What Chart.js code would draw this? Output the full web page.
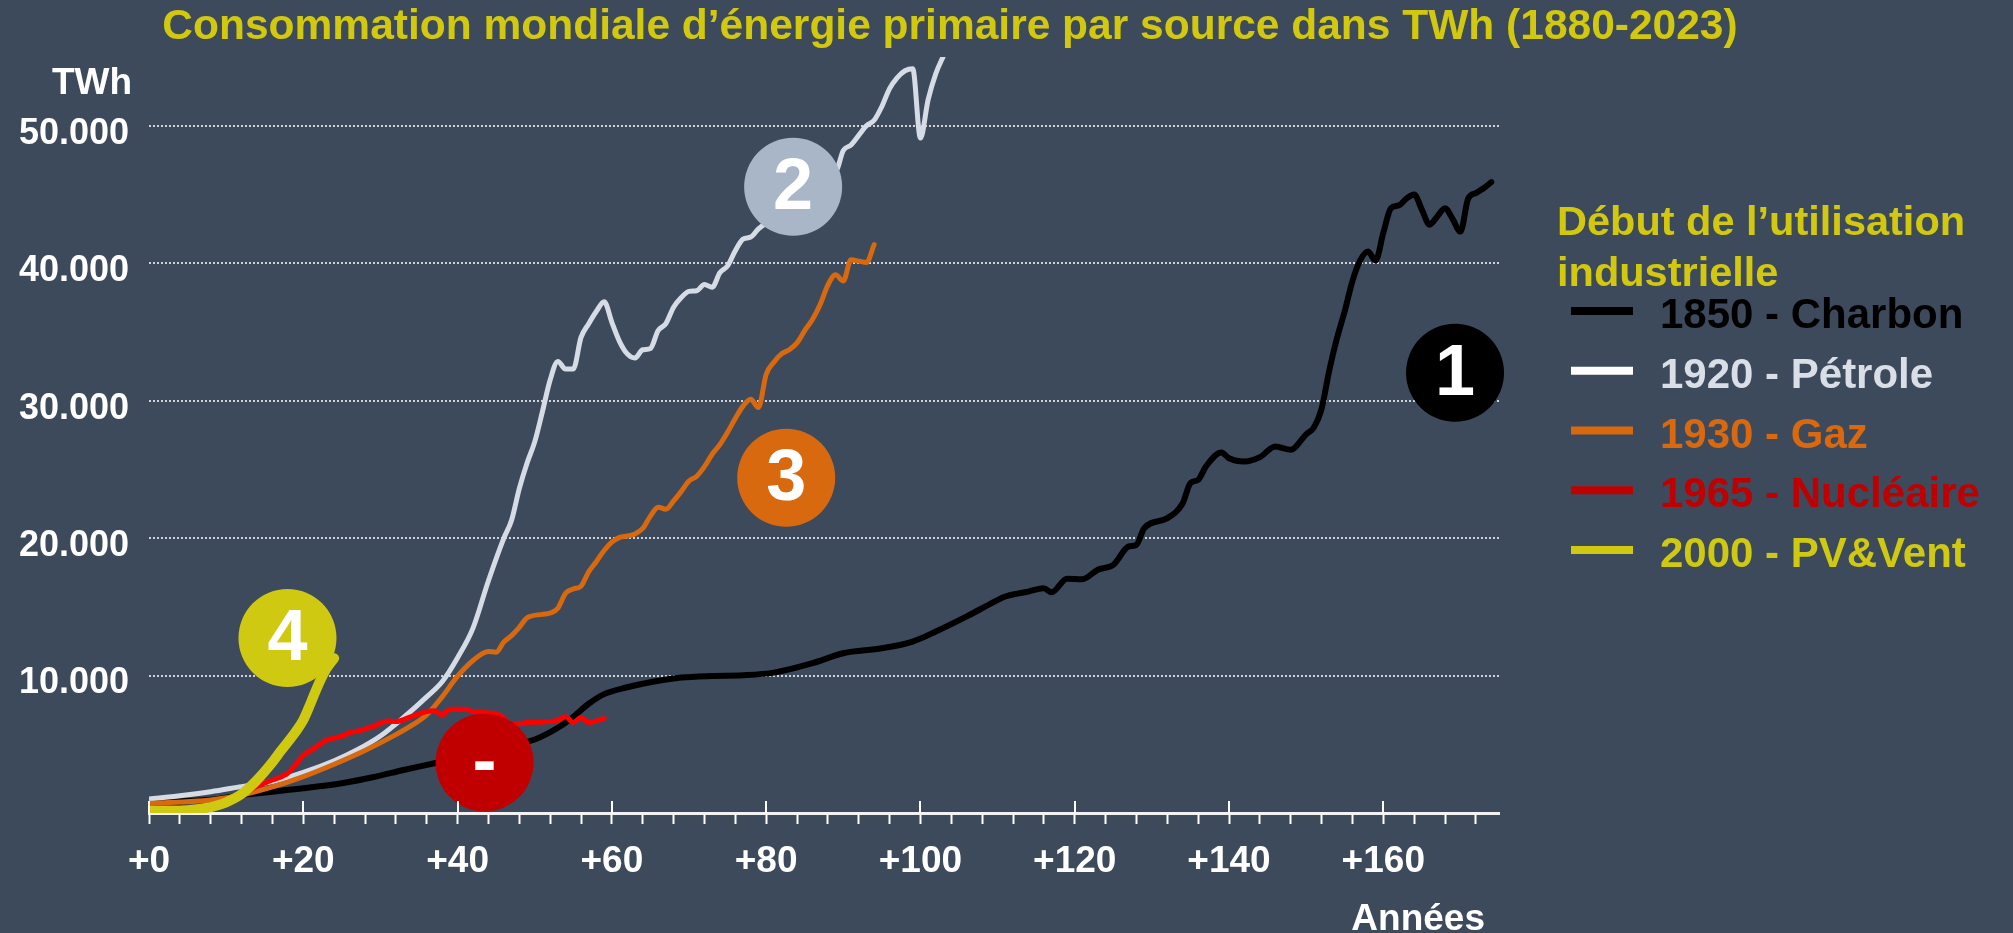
<!DOCTYPE html>
<html lang="fr">
<head>
<meta charset="utf-8">
<title>Consommation mondiale d’énergie primaire par source</title>
<script src="https://cdn.jsdelivr.net/npm/chart.js@4.4.1/dist/chart.umd.min.js"></script>
<style>
  html, body { margin: 0; padding: 0; background: #3d4a5c; }
  #wrap { width: 2013px; height: 933px; position: relative; }
</style>
</head>
<body>
<div id="wrap"><canvas id="chart" width="2013" height="933"></canvas></div>
<script>
// years since start of industrial use -> TWh
const coalYears = [0, 8, 12, 16, 20, 25, 29, 33, 37, 40, 44, 47, 50, 53, 55, 57, 59, 62, 64, 69,
  73, 77, 81, 86, 90, 95, 99, 102, 106, 109, 111, 114, 116, 117, 119, 121, 123, 125, 127, 128,
  129, 132, 134, 135, 136, 137, 139, 140, 142, 144, 146, 148, 150, 151, 152, 153, 154, 155, 156, 157,
  158, 159, 160, 161, 162, 163, 164, 165, 166, 167, 168, 169, 170, 171, 172, 173, 174];
const coalTWh = [780, 960, 1300, 1550, 1800, 2170, 2600, 3130, 3620, 4000, 4550, 4950, 5350, 6200, 7000, 7950, 8650, 9150, 9400, 9850,
  9970, 10020, 10210, 10900, 11620, 11980, 12470, 13200, 14300, 15200, 15750, 16110, 16350, 16060, 17050, 17010, 17700, 18050, 19390, 19510,
  20720, 21450, 22540, 24000, 24240, 25200, 26230, 25810, 25570, 25890, 26670, 26430, 27550, 28050, 29400, 32200, 34550, 36500, 38700, 40200,
  40850, 40200, 42200, 44000, 44200, 44700, 45000, 43900, 42800, 43400, 44000, 43200, 42300, 44700, 45100, 45450, 45900];

const petrolYears = [0, 4, 8, 12, 16, 20, 24, 27, 30, 33, 36, 38, 40, 42, 44, 46, 47, 48, 49, 50,
  51, 52, 53, 54, 55, 56, 57, 58, 59, 60, 61, 62, 63, 64, 65, 66, 67, 68, 69, 70,
  71, 72, 73, 74, 75, 76, 77, 78, 79, 81, 83, 85, 87, 88, 89, 90, 91, 92, 93, 94,
  95, 96, 97, 98, 99, 100, 101, 102, 103];
const petrolTWh = [1020, 1250, 1550, 1920, 2280, 2950, 3800, 4600, 5600, 6950, 8450, 9550, 11300, 13450, 16900, 20000, 21300, 23600, 25450, 27000,
  29200, 31500, 32850, 32300, 32300, 34600, 35600, 36500, 37200, 35700, 34300, 33400, 33100, 33700, 33800, 35100, 35600, 36800, 37500, 37950,
  38000, 38450, 38250, 39300, 39800, 40900, 41750, 41900, 42500, 43300, 44200, 45300, 46300, 46900, 46700, 48200, 48600, 49300, 50000, 50400,
  51400, 52700, 53500, 54000, 54150, 49100, 51900, 53800, 55100];

const gasYears = [0, 8, 12, 16, 20, 24, 28, 32, 34, 36, 38, 40, 42, 44, 45, 46, 47, 48, 49, 51,
  52, 53, 54, 55, 56, 57, 58, 59, 60, 61, 62, 63, 64, 65, 66, 67, 68, 69, 70, 71,
  72, 73, 74, 75, 76, 77, 78, 79, 80, 81, 82, 83, 84, 85, 86, 87, 88, 89, 90, 91,
  92, 93, 94];
const gasTWh = [700, 950, 1310, 1900, 2650, 3550, 4550, 5700, 6350, 7150, 8450, 9950, 11100, 11750, 11700, 12450, 12900, 13500, 14200, 14450,
  14550, 14900, 15990, 16300, 16500, 17550, 18300, 19100, 19700, 20050, 20150, 20300, 20700, 21600, 22250, 22100, 22700, 23400, 24150, 24500,
  25200, 26100, 26800, 27700, 28700, 29600, 30100, 29500, 31900, 32800, 33400, 33700, 34200, 35100, 35900, 37000, 38400, 39150, 38700, 40250,
  40150, 40050, 41350];

const nuclearYears = [0, 4, 8, 10, 12, 14, 16, 18, 19, 20, 21, 23, 25, 26, 27, 29, 31, 32, 34, 36,
  37, 38, 39, 41, 42, 43, 44, 45, 46, 47, 48, 49, 50, 52, 53, 54, 55, 56, 57, 58, 59];
const nuclearTWh = [50, 150, 450, 750, 1300, 1950, 2400, 2900, 3500, 4200, 4550, 5300, 5600, 5850, 5950, 6280, 6700, 6650, 7020, 7380,
  7430, 7140, 7550, 7550, 7380, 7320, 7280, 7250, 6900, 6450, 6500, 6580, 6600, 6650, 6750, 7000, 6580, 6940, 6580, 6700, 6890];

const pvYears = [0, 3, 5, 7, 8, 10, 12, 14, 16, 17, 19, 20, 21, 22, 23, 24];
const pvTWh = [170, 170, 210, 330, 430, 780, 1380, 2400, 3700, 4450, 5900, 6770, 8050, 9400, 10500, 11260];

const seriesNames = ['1850 - Charbon', '1920 - Pétrole', '1930 - Gaz', '1965 - Nucléaire', '2000 - PV&Vent'];

const xTickValues = [];
for (let v = 0; v <= 172; v += 4) xTickValues.push(v);
const yTickValues = [10000, 20000, 30000, 40000, 50000];
const yTickLabels = ['10.000', '20.000', '30.000', '40.000', '50.000'];

// numbered badges, placed in data units
const badgeText = ['1', '2', '3', '4', '-'];
const badgeYear = [169.3, 83.5, 82.6, 17.95, 43.5];
const badgeTWh = [32030, 45560, 24390, 12730, 3680];

const FONT = '"Liberation Sans", Arial, Helvetica, sans-serif';
const BG = '#3d4a5c';
const YELLOW = '#d2c80e';
const lineColors = ['#000000', '#d6dce5', '#d9690e', '#ff0000', '#d0c912'];
const lineWidths = [6, 5, 5, 5, 10];
const legendSwatch = ['#000000', '#ffffff', '#d9690e', '#c00000', '#d0c912'];
const legendText = ['#000000', '#d9dee7', '#d9690e', '#c00000', '#d0c912'];
const badgeColors = ['#000000', '#a9b6c7', '#d9690e', '#d0c912', '#c00000'];

function pairs(xs, ys) {
    return xs.map((x, i) => ({ x: x, y: ys[i] }));
}

const extras = {
    id: 'extras',
    beforeDraw(chart) {
        const ctx = chart.ctx;
        ctx.save();
        ctx.fillStyle = BG;
        ctx.fillRect(0, 0, chart.width, chart.height);
        ctx.restore();
    },
    afterDatasetsDraw(chart) {
        const { ctx, scales: { x, y } } = chart;
        ctx.save();
        badgeText.forEach((t, i) => {
            const px = x.getPixelForValue(badgeYear[i]);
            const py = y.getPixelForValue(badgeTWh[i]);
            ctx.beginPath();
            ctx.arc(px, py, 49, 0, Math.PI * 2);
            ctx.fillStyle = badgeColors[i];
            ctx.fill();
            ctx.fillStyle = '#ffffff';
            ctx.font = 'bold 72px ' + FONT;
            ctx.textAlign = 'center';
            ctx.textBaseline = 'middle';
            ctx.fillText(t, px, py + 2);
        });
        ctx.restore();
    },
    afterDraw(chart) {
        const { ctx, scales: { x }, chartArea } = chart;
        ctx.save();

        // long ticks every 20 years also reach above the axis
        ctx.strokeStyle = '#ffffff';
        ctx.lineWidth = 2;
        xTickValues.filter(v => v % 20 === 0).forEach(v => {
            const px = Math.round(x.getPixelForValue(v));
            ctx.beginPath();
            ctx.moveTo(px, chartArea.bottom - 12);
            ctx.lineTo(px, chartArea.bottom);
            ctx.stroke();
        });

        ctx.textBaseline = 'alphabetic';
        ctx.fillStyle = YELLOW;
        ctx.font = 'bold 42.5px ' + FONT;
        ctx.textAlign = 'center';
        ctx.fillText('Consommation mondiale d’énergie primaire par source dans TWh (1880-2023)', 950, 39);

        ctx.fillStyle = '#ffffff';
        ctx.font = 'bold 37px ' + FONT;
        ctx.textAlign = 'right';
        ctx.fillText('TWh', 132, 94);
        ctx.font = 'bold 37px ' + FONT;
        ctx.fillText('Années', 1485, 930);

        // legend
        ctx.textAlign = 'left';
        ctx.fillStyle = YELLOW;
        ctx.font = 'bold 41.5px ' + FONT;
        ctx.fillText('Début de l’utilisation', 1557, 235);
        ctx.fillText('industrielle', 1557, 286);

        ctx.font = 'bold 42px ' + FONT;
        seriesNames.forEach((name, i) => {
            const base = 328 + i * 59.75;
            ctx.fillStyle = legendSwatch[i];
            ctx.fillRect(1571, base - 21, 62, 8);
            ctx.fillStyle = legendText[i];
            ctx.fillText(name, 1660, base);
        });
        ctx.restore();
    }
};

const seriesData = [
    pairs(coalYears, coalTWh),
    pairs(petrolYears, petrolTWh),
    pairs(gasYears, gasTWh),
    pairs(nuclearYears, nuclearTWh),
    pairs(pvYears, pvTWh)
];

const ctx = document.getElementById('chart').getContext('2d');

new Chart(ctx, {
    type: 'line',
    data: {
        datasets: seriesNames.map((name, i) => ({
            label: name,
            data: seriesData[i],
            borderColor: lineColors[i],
            backgroundColor: lineColors[i],
            borderWidth: lineWidths[i],
            pointRadius: 0,
            cubicInterpolationMode: 'monotone',
            borderCapStyle: 'round',
            borderJoinStyle: 'round',
            order: 5 - i
        }))
    },
    options: {
        responsive: false,
        animation: false,
        events: [],
        layout: { padding: { left: 0, top: 57, right: 514, bottom: 0 } },
        plugins: {
            legend: { display: false },
            tooltip: { enabled: false }
        },
        scales: {
            x: {
                type: 'linear',
                min: 0,
                max: 175,
                afterBuildTicks: axis => { axis.ticks = xTickValues.map(v => ({ value: v })); },
                afterFit: axis => { axis.height = 120; },
                ticks: {
                    autoSkip: false,
                    maxRotation: 0,
                    padding: 16,
                    color: '#ffffff',
                    font: { family: FONT, size: 37, weight: 'bold' },
                    callback: v => (v % 20 === 0 ? '+' + v : '')
                },
                grid: {
                    drawOnChartArea: false,
                    drawTicks: true,
                    tickLength: 11,
                    tickColor: '#ffffff',
                    tickWidth: 2
                },
                border: { display: true, color: '#f2f2f2', width: 3 }
            },
            y: {
                min: 0,
                max: 55000,
                afterBuildTicks: axis => { axis.ticks = yTickValues.map(v => ({ value: v })); },
                afterFit: axis => { axis.width = 149; },
                ticks: {
                    padding: 20,
                    labelOffset: 8,
                    color: '#ffffff',
                    font: { family: FONT, size: 36, weight: 'bold' },
                    callback: (v, i) => yTickLabels[i]
                },
                grid: {
                    drawTicks: false,
                    color: '#cfd3d9',
                    lineWidth: 2
                },
                border: { display: false, dash: [2, 2] }
            }
        }
    },
    plugins: [extras]
});
</script>
</body>
</html>
